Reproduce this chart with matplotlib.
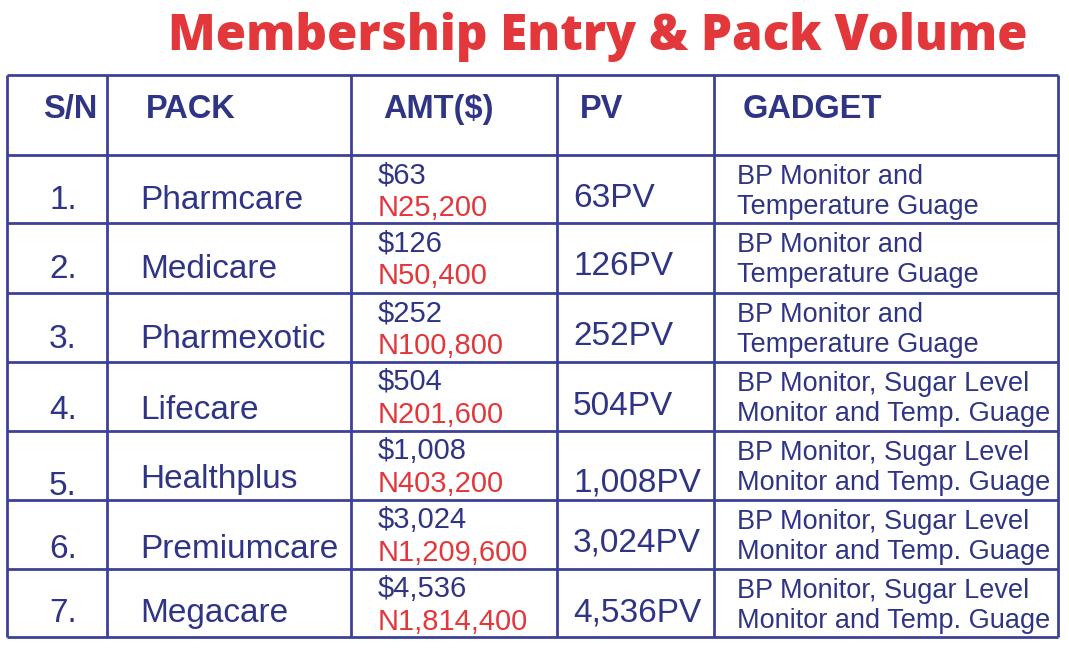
import matplotlib
matplotlib.use("Agg")
import matplotlib.pyplot as plt

title = "Membership Entry & Pack Volume"
headers = ["S/N", "PACK", "AMT($)", "PV", "GADGET"]
serials = ["1.", "2.", "3.", "4.", "5.", "6.", "7."]
packs = ["Pharmcare", "Medicare", "Pharmexotic", "Lifecare", "Healthplus", "Premiumcare", "Megacare"]
amt_usd = ["$63", "$126", "$252", "$504", "$1,008", "$3,024", "$4,536"]
amt_naira = ["N25,200", "N50,400", "N100,800", "N201,600", "N403,200", "N1,209,600", "N1,814,400"]
pv = ["63PV", "126PV", "252PV", "504PV", "1,008PV", "3,024PV", "4,536PV"]
gadgets = [
    ("BP Monitor and", "Temperature Guage"),
    ("BP Monitor and", "Temperature Guage"),
    ("BP Monitor and", "Temperature Guage"),
    ("BP Monitor, Sugar Level", "Monitor and Temp. Guage"),
    ("BP Monitor, Sugar Level", "Monitor and Temp. Guage"),
    ("BP Monitor, Sugar Level", "Monitor and Temp. Guage"),
    ("BP Monitor, Sugar Level", "Monitor and Temp. Guage"),
]

navy = "#2f3584"
line_col = "#3c4197"
red = "#e2383b"

fig = plt.figure(figsize=(10.69, 6.59), dpi=100)
ax = fig.add_axes([0, 0, 1, 1])
ax.set_xlim(0, 1069)
ax.set_ylim(659, 0)
ax.axis("off")

# grid
col_x = [7, 107, 351, 557, 714, 1058]
row_y = [75, 155, 223, 293, 362, 431, 500, 569, 637]
ax.hlines(row_y, col_x[0], col_x[-1], color=line_col, lw=2)
ax.vlines(col_x, row_y[0], row_y[-1], color=line_col, lw=2)

ax.text(598, 50, title, color=red, fontsize=35.5, fontweight="heavy",
        family=["Open Sans", "DejaVu Sans"], ha="center", va="baseline")

body = ["Liberation Sans", "DejaVu Sans"]
head_x = [43, 146, 383, 580, 743]
for x, h in zip(head_x, headers):
    ax.text(x, 118, h, color=navy, fontsize=23.5, fontweight="bold",
            family=body, ha="left", va="baseline")

# small per-row vertical nudges seen in the original layout
sn_nudge = [0, 1, 1, 3, 10, 4, -1]
pk_nudge = [0, 1, 1, 3, 3, 4, -1]
pv_nudge = [0, 0, 0, 1, 9, -1, 1]
for i in range(len(packs)):
    top = row_y[i + 1]
    ax.text(63, top + 54 + sn_nudge[i], serials[i], color=navy, fontsize=24,
            family=body, ha="center", va="baseline")
    ax.text(140, top + 54 + pk_nudge[i], packs[i], color=navy, fontsize=24,
            family=body, ha="left", va="baseline")
    ax.text(378, top + 28, amt_usd[i], color=navy, fontsize=21, family=body,
            ha="left", va="baseline")
    ax.text(378, top + 61, amt_naira[i], color=red, fontsize=21, family=body,
            ha="left", va="baseline")
    ax.text(573, top + 52 + pv_nudge[i], pv[i], color=navy, fontsize=24,
            family=body, ha="left", va="baseline")
    ax.text(737, top + 29, gadgets[i][0], color=navy, fontsize=19.5,
            family=body, ha="left", va="baseline")
    ax.text(737, top + 59, gadgets[i][1], color=navy, fontsize=19.5,
            family=body, ha="left", va="baseline")

fig.savefig("out.png", dpi=100, facecolor="white")
